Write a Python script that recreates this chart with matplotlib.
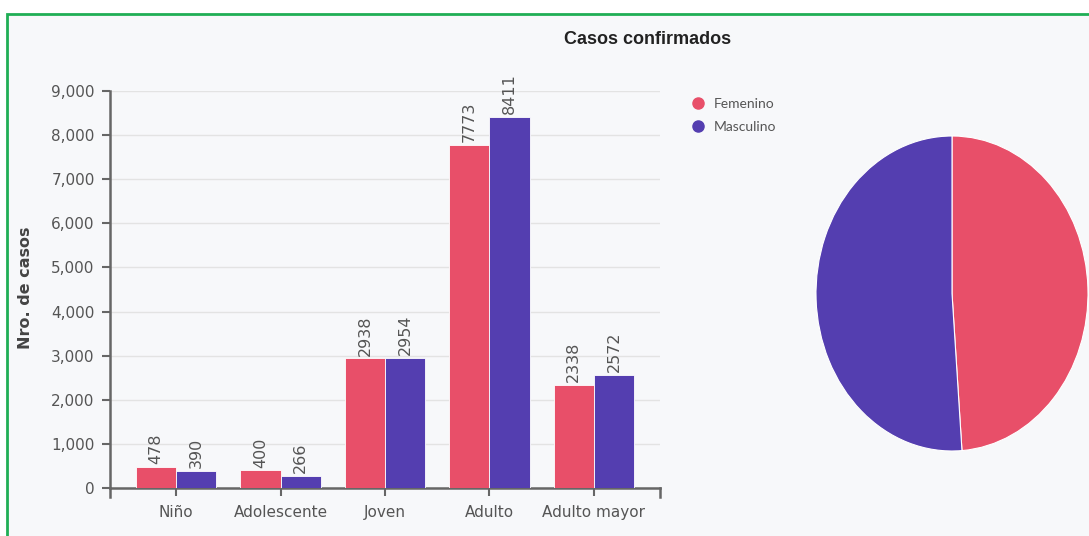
import numpy as np
import matplotlib.pyplot as plt
from matplotlib.lines import Line2D
from matplotlib.patches import Rectangle
from matplotlib.ticker import FuncFormatter

# data
grupos = ['Niño', 'Adolescente', 'Joven', 'Adulto', 'Adulto mayor']
femenino = [478, 400, 2938, 7773, 2338]
masculino = [390, 266, 2954, 8411, 2572]
series = ['Femenino', 'Masculino']

rojo = '#e84f69'
azul = '#543eb0'
fondo = '#f7f8fa'
gris = '#555555'
eje = '#666666'

W, H = 1089, 536
fig = plt.figure(figsize=(W / 100, H / 100), dpi=100, facecolor='white')

# panel with green frame
fig.patches.append(Rectangle((7 / W, -0.1), 1.2, 1 - 14 / H + 0.1, transform=fig.transFigure,
                             facecolor=fondo, edgecolor='#1fae55', linewidth=2, zorder=-5))

# bar chart
ax = fig.add_axes([110 / W, 48 / H, 550 / W, 397 / H])
ax.set_facecolor('none')
x = np.arange(len(grupos))
bw = 0.385
b1 = ax.bar(x - bw / 2, femenino, bw, color=rojo, edgecolor='white', linewidth=0.6, zorder=3)
b2 = ax.bar(x + bw / 2, masculino, bw, color=azul, edgecolor='white', linewidth=0.6, zorder=3)
for bars in (b1, b2):
    for r in bars:
        ax.annotate(f'{int(r.get_height())}', (r.get_x() + r.get_width() / 2, r.get_height()),
                    xytext=(0, 2), textcoords='offset points', rotation=90,
                    ha='center', va='bottom', fontsize=11.5, color=gris)

ax.set_xlim(-0.632, len(grupos) - 1 + 0.632)
ax.set_ylim(0, 9000)
ax.set_yticks(np.arange(0, 9001, 1000))
ax.yaxis.set_major_formatter(FuncFormatter(lambda v, p: f'{int(v):,}'))
ax.set_xticks(x)
ax.set_xticklabels(grupos)
ax.grid(axis='y', color='#e3e3e3', linewidth=1, zorder=0)
ax.tick_params(axis='both', colors=eje, labelcolor=gris, labelsize=11, length=6, width=1.5)
ax.tick_params(axis='x', pad=6)
ax.tick_params(axis='y', pad=5)
for s in ['top', 'right']:
    ax.spines[s].set_visible(False)
for s in ['left', 'bottom']:
    ax.spines[s].set_color(eje)
    ax.spines[s].set_linewidth(1.8)
# outer ticks at the domain ends
ax.plot([0, 0], [0, -9 / 397], transform=ax.transAxes, color=eje, lw=1.8, clip_on=False)
ax.plot([1, 1], [0, -9 / 397], transform=ax.transAxes, color=eje, lw=1.8, clip_on=False)
ax.set_ylabel('Nro. de casos', fontsize=11.5, fontweight='bold', color='#444444')
ax.yaxis.set_label_coords(-0.14, 0.505)

fig.text(648 / W, 1 - 40 / H, 'Casos confirmados', ha='center', va='center',
         fontsize=13, fontweight='bold', family='Liberation Sans', color='#222222')

handles = [Line2D([], [], marker='o', ls='', color=c, markersize=8) for c in (rojo, azul)]
fig.legend(handles, series, loc='upper left', bbox_to_anchor=(672 / W, 1 - 85 / H),
           frameon=False, handletextpad=0.1, labelspacing=0.8,
           labelcolor=gris, prop={'family': 'Lato', 'size': 10})

# pie
axp = fig.add_axes([816 / W, 85 / H, 272 / W, 315 / H])
axp.pie([sum(femenino), sum(masculino)], colors=[rojo, azul], startangle=90, counterclock=False,
        radius=1, wedgeprops={'edgecolor': 'white', 'linewidth': 0.8})
axp.set_aspect('auto')
axp.set_xlim(-1, 1)
axp.set_ylim(-1, 1)

fig.savefig('out.png', dpi=100, facecolor='white')
